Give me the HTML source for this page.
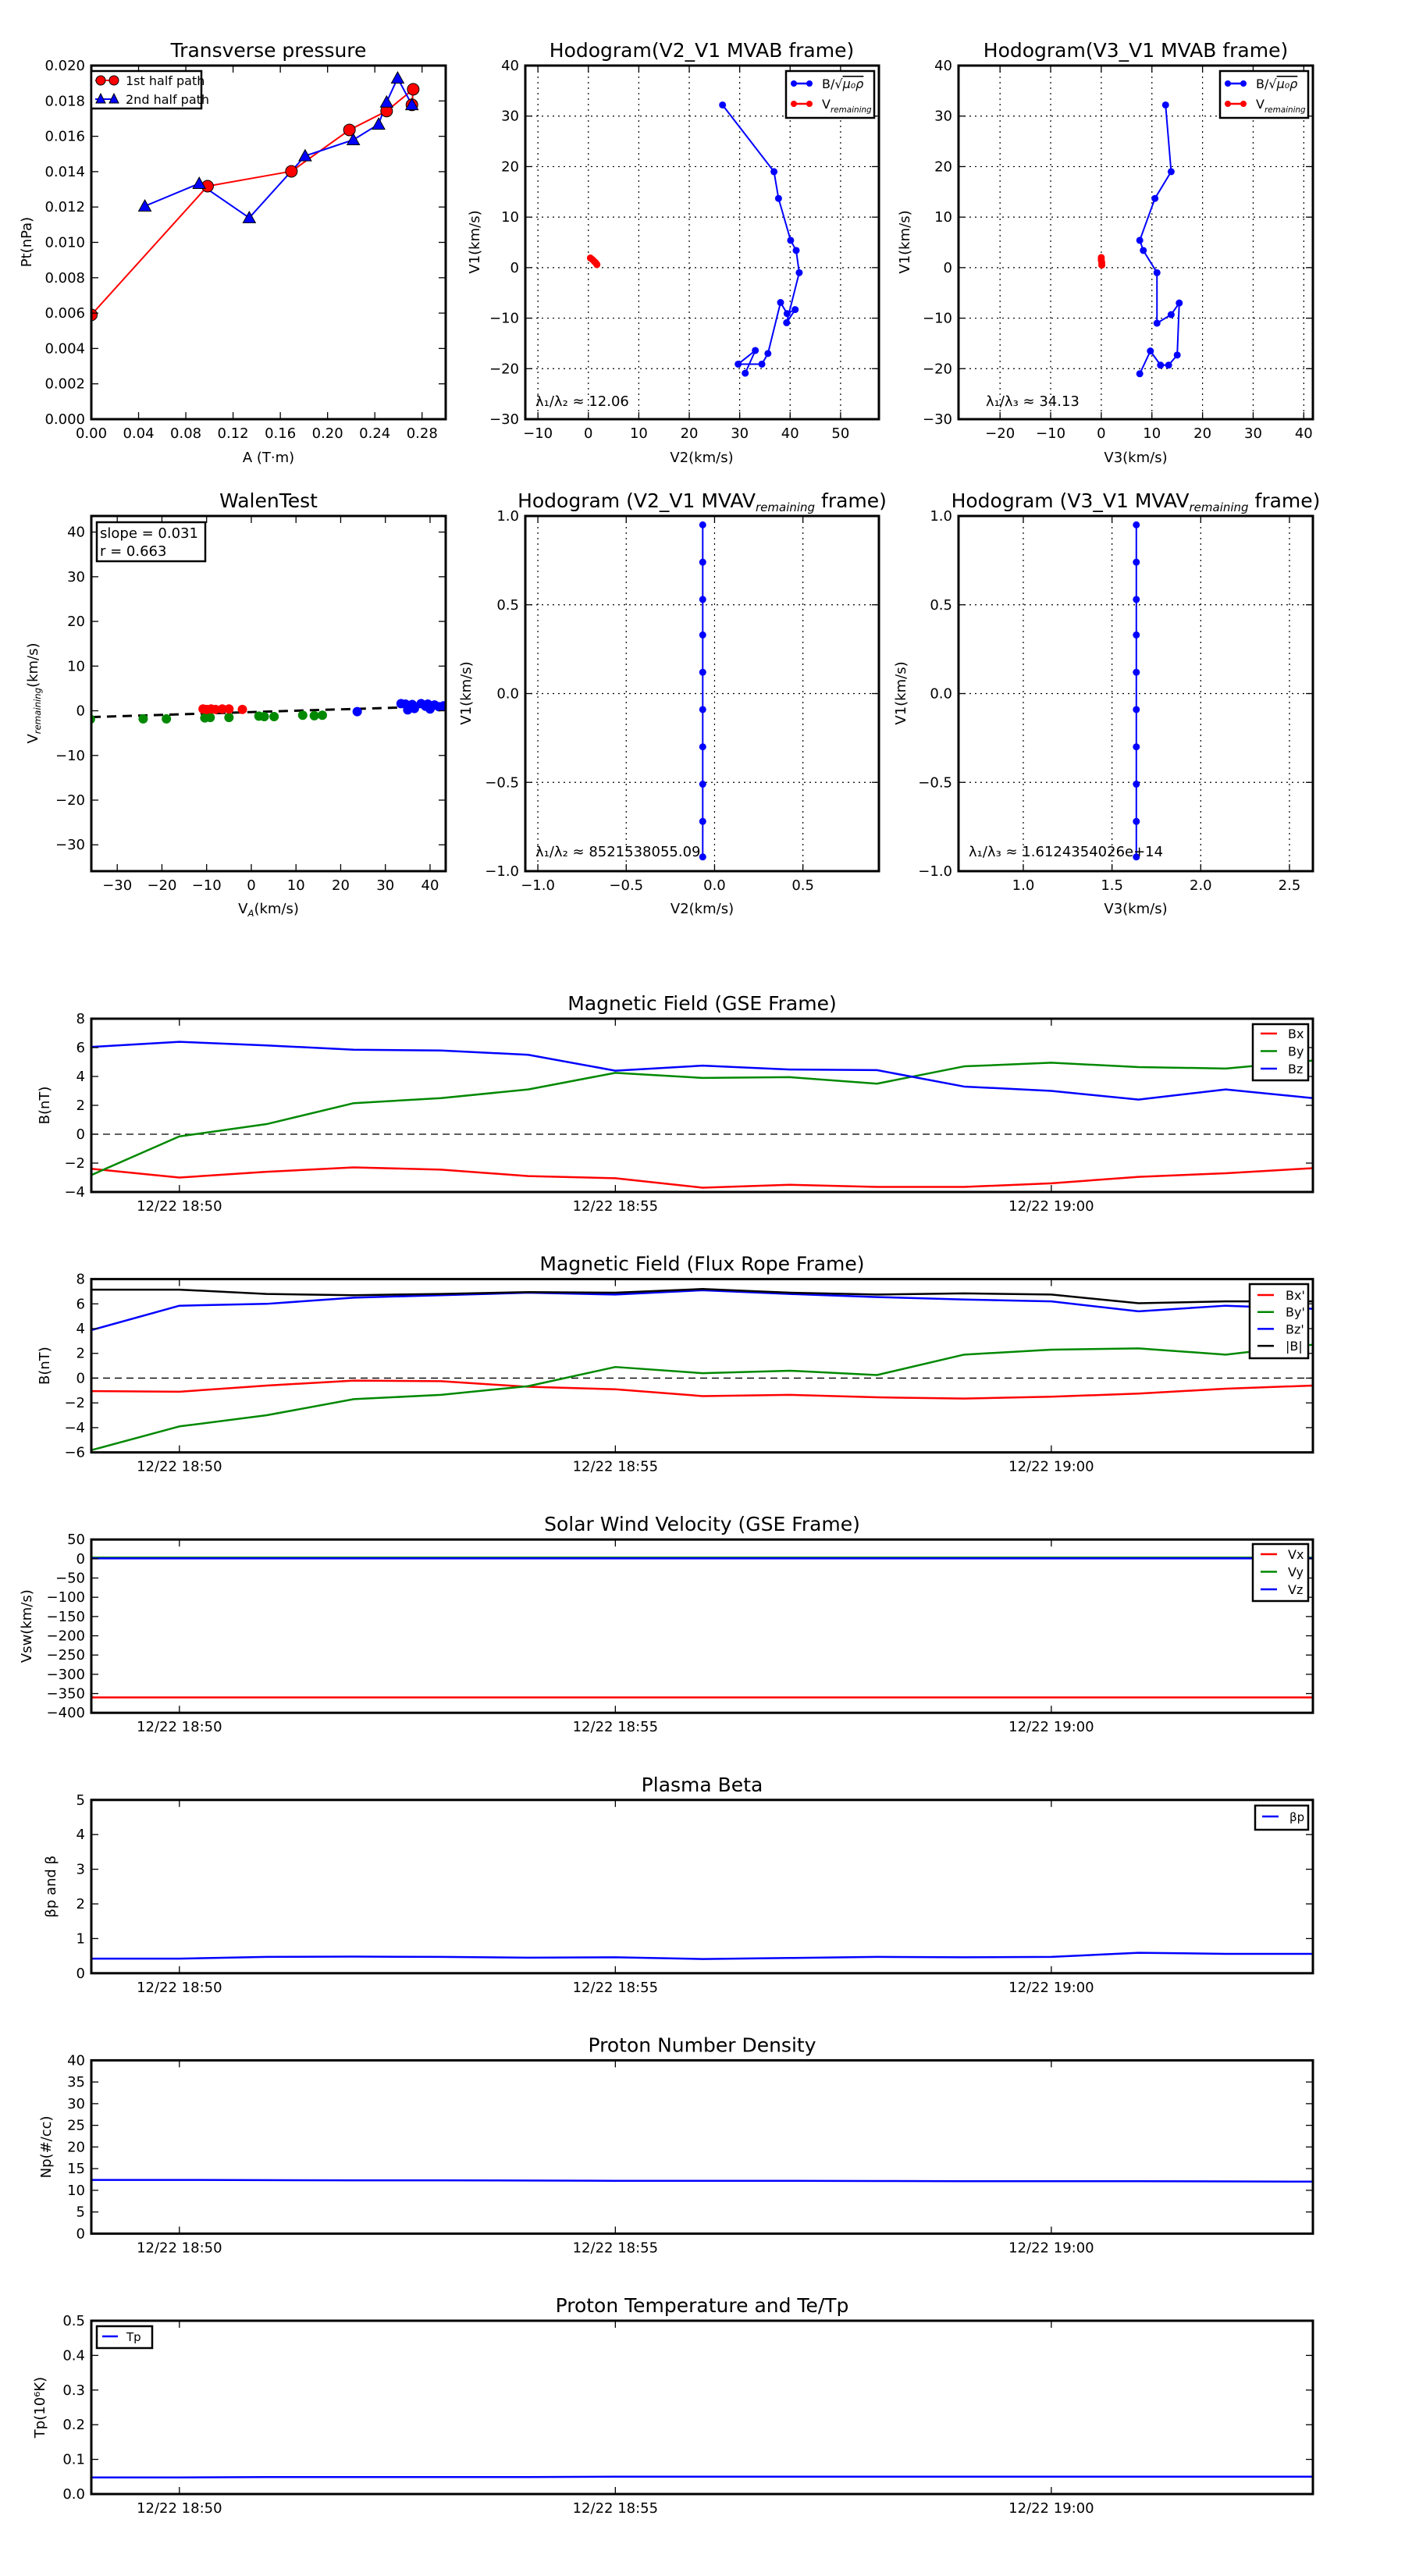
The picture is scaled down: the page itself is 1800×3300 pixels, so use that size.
<!DOCTYPE html>
<html><head><meta charset="utf-8"><title>Flux rope analysis</title>
<style>
html,body{margin:0;padding:0;background:#fff;}
svg{display:block;}
text{font-family:"DejaVu Sans","Liberation Sans",sans-serif;fill:#000;}
</style></head>
<body>
<svg id="fig" xmlns="http://www.w3.org/2000/svg" width="1800" height="3300" viewBox="0 0 1800 3300"></svg>
<script>
// ---------- DATA ----------
const ptRedA = [0.0, 0.0984, 0.1694, 0.2185, 0.250, 0.2725, 0.2714];
const ptRedP = [0.0059, 0.01318, 0.01402, 0.01636, 0.01743, 0.01866, 0.01778];
const ptBlueA = [0.0453, 0.0913, 0.1337, 0.181, 0.2218, 0.2432, 0.250, 0.2593, 0.2714];
const ptBlueP = [0.01205, 0.01333, 0.01139, 0.01489, 0.0158, 0.01668, 0.01793, 0.01929, 0.01778];

const h2BlueX = [26.6, 36.8, 37.7, 40.1, 41.2, 41.8, 39.3, 41.0, 39.4, 38.1, 35.6, 34.4, 29.7, 33.1, 31.1];
const h2BlueY = [32.2, 19.0, 13.7, 5.4, 3.4, -1.0, -10.9, -8.3, -9.1, -6.9, -17.0, -19.1, -19.1, -16.4, -20.9];
const h2RedX = [0.4, 0.8, 1.2, 1.5, 1.7];
const h2RedY = [1.9, 1.6, 1.2, 0.9, 0.6];
const h3BlueX = [12.7, 13.8, 10.6, 7.6, 8.3, 11.0, 11.0, 13.8, 15.4, 15.0, 13.3, 11.7, 9.7, 7.6];
const h3BlueY = [32.2, 19.0, 13.7, 5.4, 3.4, -1.0, -11.0, -9.3, -7.0, -17.3, -19.3, -19.3, -16.5, -21.0];
const h3RedX = [0.0, 0.0, 0.1, 0.1];
const h3RedY = [2.0, 1.5, 1.0, 0.5];

const walGreenX = [-36, -24.2, -19, -10.4, -9.2, -5, 1.7, 2.9, 5.1, 11.5, 14.1, 15.9];
const walGreenY = [-1.9, -1.8, -1.8, -1.6, -1.5, -1.5, -1.2, -1.3, -1.3, -1.0, -1.1, -1.0];
const walRedX = [-10.8, -10, -9, -8, -6.5, -5, -2];
const walRedY = [0.4, 0.3, 0.4, 0.3, 0.4, 0.4, 0.3];
const walBlueX = [23.7, 33.5, 34.5, 35, 36, 36.5, 38, 39, 39.5, 40, 41, 42, 43];
const walBlueY = [-0.2, 1.6, 1.5, 0.2, 1.4, 0.5, 1.6, 1.0, 1.5, 0.4, 1.3, 0.9, 1.1];
const walSlope = 0.031;
const walIntercept = -0.3;

const mv2X = [-0.067, -0.067, -0.067, -0.067, -0.067, -0.067, -0.067, -0.067, -0.067, -0.067];
const mv2Y = [0.95, 0.74, 0.53, 0.33, 0.12, -0.09, -0.30, -0.51, -0.72, -0.92];
const mv3X = [1.637, 1.637, 1.637, 1.637, 1.637, 1.637, 1.637, 1.637, 1.637, 1.637];
const mv3Y = [0.95, 0.74, 0.53, 0.33, 0.12, -0.09, -0.30, -0.51, -0.72, -0.92];

// time series: minutes after 18:49
const tMin = [0,1,2,3,4,5,6,7,8,9,10,11,12,13,14];
const timeTickMin = [1, 6, 11];
const timeTickLabels = ["12/22 18:50", "12/22 18:55", "12/22 19:00"];
const gseBx = [-2.4,-3.0,-2.6,-2.3,-2.45,-2.9,-3.05,-3.7,-3.5,-3.65,-3.65,-3.4,-2.95,-2.7,-2.35];
const gseBy = [-2.8,-0.15,0.7,2.15,2.5,3.1,4.25,3.9,3.95,3.5,4.7,4.95,4.65,4.55,5.1];
const gseBz = [6.05,6.4,6.15,5.85,5.8,5.5,4.4,4.75,4.48,4.44,3.3,3.0,2.4,3.1,2.5];
const frBx = [-1.05,-1.1,-0.6,-0.2,-0.25,-0.7,-0.9,-1.45,-1.35,-1.55,-1.65,-1.5,-1.25,-0.85,-0.6];
const frBy = [-5.8,-3.9,-3.0,-1.7,-1.35,-0.65,0.9,0.4,0.6,0.25,1.9,2.3,2.4,1.9,2.7];
const frBz = [3.9,5.85,6.0,6.5,6.7,6.9,6.75,7.1,6.8,6.55,6.35,6.2,5.4,5.85,5.6];
const frB = [7.15,7.15,6.8,6.7,6.8,6.95,6.9,7.2,6.9,6.75,6.85,6.75,6.05,6.2,6.2];
const velX = [-360,-360,-360,-360,-360,-360,-360,-360,-360,-360,-360,-360,-360,-360,-360];
const velY = [3,3,3,3,3,3,3,3,3,3,3,3,3,3,3];
const velZ = [1,1,1,1,1,1,1,1,1,1,1,1,1,1,1];
const betaP = [0.42,0.42,0.47,0.48,0.47,0.45,0.46,0.41,0.44,0.47,0.46,0.47,0.59,0.56,0.56];
const densNp = [12.4,12.4,12.35,12.3,12.3,12.25,12.2,12.2,12.2,12.15,12.1,12.1,12.1,12.05,12.0];
const tempTp = [0.048,0.048,0.049,0.049,0.049,0.049,0.050,0.050,0.050,0.050,0.050,0.050,0.050,0.050,0.050];

// ---------- HELPERS ----------
const NS = "http://www.w3.org/2000/svg";
const svg = document.getElementById('fig');
function mk(tag, attrs, parent) {
  const e = document.createElementNS(NS, tag);
  for (const k in attrs) e.setAttribute(k, attrs[k]);
  (parent || svg).appendChild(e);
  return e;
}
function lin(d0, d1, r0, r1) { return v => r0 + (v - d0) * (r1 - r0) / (d1 - d0); }
function fmt(v, dec) { const s = Math.abs(v).toFixed(dec); return (v < -1e-12 ? "\u2212" : "") + s; }
function txt(x, y, s, size, anchor, name, parent) {
  const t = mk('text', {x: x, y: y, 'font-size': size, 'text-anchor': anchor || 'start'}, parent);
  t.textContent = s;
  
  
  return t;
}
function setupAxes(name, L, T, R, B, xd, yd) {
  const g = mk('g', {});
  
  
  const clipId = 'clip-' + name;
  const cp = mk('clipPath', {id: clipId}, g);
  mk('rect', {x: L, y: T, width: R - L, height: B - T}, cp);
  const plot = mk('g', {'clip-path': 'url(#' + clipId + ')'}, g);
  
  
  return {g: g, plot: plot, L: L, T: T, R: R, B: B, sx: lin(xd[0], xd[1], L, R), sy: lin(yd[0], yd[1], B, T)};
}
function grid(ax, xt, yt) {
  xt.forEach(v => { const x = ax.sx(v);
    const l = mk('line', {x1: x, y1: ax.T, x2: x, y2: ax.B, stroke: '#000', 'stroke-width': 1.2, 'stroke-dasharray': '2,5'}, ax.plot);
    
     });
  yt.forEach(v => { const y = ax.sy(v);
    const l = mk('line', {x1: ax.L, y1: y, x2: ax.R, y2: y, stroke: '#000', 'stroke-width': 1.2, 'stroke-dasharray': '2,5'}, ax.plot);
    
     });
}
function frame(ax, xt, xl, yt, yl) {
  const g = ax.g;
  xt.forEach((v, i) => { const x = ax.sx(v);
    mk('line', {x1: x, y1: ax.B, x2: x, y2: ax.B - 9, stroke: '#000', 'stroke-width': 1.3}, g);
    mk('line', {x1: x, y1: ax.T, x2: x, y2: ax.T + 9, stroke: '#000', 'stroke-width': 1.3}, g);
    if (xl[i] !== null) txt(x, ax.B + 24, xl[i], 18, 'middle', 'x-tick-label', g); });
  yt.forEach((v, i) => { const y = ax.sy(v);
    mk('line', {x1: ax.L, y1: y, x2: ax.L + 9, y2: y, stroke: '#000', 'stroke-width': 1.3}, g);
    mk('line', {x1: ax.R, y1: y, x2: ax.R - 9, y2: y, stroke: '#000', 'stroke-width': 1.3}, g);
    txt(ax.L - 8, y + 6, yl[i], 18, 'end', 'y-tick-label', g); });
  const r = mk('rect', {x: ax.L, y: ax.T, width: ax.R - ax.L, height: ax.B - ax.T, fill: 'none', stroke: '#000', 'stroke-width': 3}, g);
  
  
}
function polyline(ax, xs, ys, color, w, name, dash) {
  const pts = xs.map((x, i) => ax.sx(x).toFixed(2) + ',' + ax.sy(ys[i]).toFixed(2)).join(' ');
  const a = {points: pts, fill: 'none', stroke: color, 'stroke-width': w, 'stroke-linejoin': 'round'};
  if (dash) a['stroke-dasharray'] = dash;
  const p = mk('polyline', a, ax.plot);
  
  
  return p;
}
function dots(ax, xs, ys, color, r, name, stroke) {
  xs.forEach((x, i) => {
    const c = mk('circle', {cx: ax.sx(x), cy: ax.sy(ys[i]), r: r, fill: color, stroke: stroke || 'none', 'stroke-width': 1}, ax.plot);
    
    
  });
}
function tris(ax, xs, ys, color, s, name) {
  xs.forEach((x, i) => {
    const cx = ax.sx(x), cy = ax.sy(ys[i]);
    const p = mk('polygon', {points: `${cx},${cy - s} ${cx - s},${cy + s * 0.8} ${cx + s},${cy + s * 0.8}`, fill: color, stroke: '#000', 'stroke-width': 1}, ax.plot);
    
    
  });
}
function range(a, b, s) { const r = []; for (let v = a; v <= b + s * 1e-6; v += s) r.push(Math.round(v / s) * s); return r; }
function ylabel(x, yc, s, name, size) {
  const t = txt(x, yc, s, size || 18, 'middle', name);
  t.setAttribute('transform', `rotate(-90 ${x} ${yc})`);
  return t;
}
function vremSpan(t, base) {
  t.textContent = '';
  const a = mk('tspan', {}, t); a.textContent = base;
  const b = mk('tspan', {'font-size': '0.65em', 'font-style': 'italic', dy: 5}, t); b.textContent = 'remaining';
  return b;
}
function legendBox(x, y, w, h, name) {
  const r = mk('rect', {x: x, y: y, width: w, height: h, fill: '#fff', stroke: '#000', 'stroke-width': 2.5});
  
  
}
function legLine(x1, x2, y, color, w) {
  const l = mk('line', {x1: x1, y1: y, x2: x2, y2: y, stroke: color, 'stroke-width': w || 3});
  
  
}

// ---------- ROW 1 ----------
// Transverse pressure
(function(){
  const ax = setupAxes('transverse-pressure-axes', 117, 84, 571, 537, [0, 0.30], [0, 0.020]);
  polyline(ax, ptRedA, ptRedP, '#f00', 2, 'first-half-path-line');
  polyline(ax, ptBlueA, ptBlueP, '#00f', 2, 'second-half-path-line');
  dots(ax, ptRedA, ptRedP, '#f00', 7.5, 'first-half-point', '#000');
  tris(ax, ptBlueA, ptBlueP, '#00f', 8, 'second-half-point');
  const xt = range(0, 0.28, 0.04), yt = range(0, 0.020, 0.002);
  frame(ax, xt, xt.map(v => v.toFixed(2)), yt, yt.map(v => v.toFixed(3)));
  txt(344, 73, 'Transverse pressure', 25, 'middle', 'chart-title');
  txt(344, 592, 'A (T\u00b7m)', 18, 'middle', 'x-axis-title');
  ylabel(40, 310, 'Pt(nPa)', 'y-axis-title');
  legendBox(117, 91, 141, 48, 'legend');
  legLine(122, 147, 103, '#f00', 2);
  mk('circle', {cx: 129, cy: 103, r: 6, fill: '#f00', stroke: '#000'});
  mk('circle', {cx: 146, cy: 103, r: 6, fill: '#f00', stroke: '#000'});
  txt(161, 109, '1st half path', 16, 'start', 'legend-entry');
  legLine(122, 147, 127, '#00f', 2);
  mk('polygon', {points: '129,120 123,132 135,132', fill: '#00f', stroke: '#000'});
  mk('polygon', {points: '146,120 140,132 152,132', fill: '#00f', stroke: '#000'});
  txt(161, 133, '2nd half path', 16, 'start', 'legend-entry');
})();

function hodoLegend(x0) {
  legendBox(x0, 91, 113, 60, 'legend');
  legLine(x0 + 8, x0 + 32, 107, '#00f', 2.5);
  mk('circle', {cx: x0 + 10, cy: 107, r: 4, fill: '#00f'}); mk('circle', {cx: x0 + 30, cy: 107, r: 4, fill: '#00f'});
  const t1 = txt(x0 + 46, 113, 'B/\u221a', 16, 'start', 'legend-entry');
  const s1 = mk('tspan', {'font-style': 'italic', 'text-decoration': 'overline'}, t1); s1.textContent = '\u03bc\u2080\u03c1';
  legLine(x0 + 8, x0 + 32, 133, '#f00', 2.5);
  mk('circle', {cx: x0 + 10, cy: 133, r: 4, fill: '#f00'}); mk('circle', {cx: x0 + 30, cy: 133, r: 4, fill: '#f00'});
  const t2 = txt(x0 + 46, 139, 'V', 16, 'start', 'legend-entry');
  vremSpan(t2, 'V');
}
// Hodogram V2-V1 MVAB
(function(){
  const ax = setupAxes('hodogram-v2-v1-mvab-axes', 673, 84, 1126, 537, [-12.5, 57.6], [-30, 40]);
  const xt = range(-10, 50, 10), yt = range(-30, 40, 10);
  grid(ax, xt, yt);
  polyline(ax, h2BlueX, h2BlueY, '#00f', 2, 'b-alfven-hodogram-line');
  dots(ax, h2BlueX, h2BlueY, '#00f', 4.5, 'b-alfven-point');
  polyline(ax, h2RedX, h2RedY, '#f00', 2, 'v-remaining-hodogram-line');
  dots(ax, h2RedX, h2RedY, '#f00', 4.5, 'v-remaining-point');
  frame(ax, xt, xt.map(v => fmt(v, 0)), yt, yt.map(v => fmt(v, 0)));
  txt(899, 73, 'Hodogram(V2_V1 MVAB frame)', 25, 'middle', 'chart-title');
  txt(899, 592, 'V2(km/s)', 18, 'middle', 'x-axis-title');
  ylabel(614, 310, 'V1(km/s)', 'y-axis-title');
  txt(686, 520, '\u03bb\u2081/\u03bb\u2082 \u2248 12.06', 18, 'start', 'eigenvalue-ratio');
  hodoLegend(1007);
})();
// Hodogram V3-V1 MVAB
(function(){
  const ax = setupAxes('hodogram-v3-v1-mvab-axes', 1228, 84, 1682, 537, [-28.2, 41.8], [-30, 40]);
  const xt = range(-20, 40, 10), yt = range(-30, 40, 10);
  grid(ax, xt, yt);
  polyline(ax, h3BlueX, h3BlueY, '#00f', 2, 'b-alfven-hodogram-line');
  dots(ax, h3BlueX, h3BlueY, '#00f', 4.5, 'b-alfven-point');
  polyline(ax, h3RedX, h3RedY, '#f00', 2, 'v-remaining-hodogram-line');
  dots(ax, h3RedX, h3RedY, '#f00', 4.5, 'v-remaining-point');
  frame(ax, xt, xt.map(v => fmt(v, 0)), yt, yt.map(v => fmt(v, 0)));
  txt(1455, 73, 'Hodogram(V3_V1 MVAB frame)', 25, 'middle', 'chart-title');
  txt(1455, 592, 'V3(km/s)', 18, 'middle', 'x-axis-title');
  ylabel(1165, 310, 'V1(km/s)', 'y-axis-title');
  txt(1263, 520, '\u03bb\u2081/\u03bb\u2083 \u2248 34.13', 18, 'start', 'eigenvalue-ratio');
  hodoLegend(1563);
})();

// ---------- ROW 2 ----------
(function(){
  const ax = setupAxes('walen-test-axes', 117, 661, 571, 1116, [-35.8, 43.5], [-35.9, 43.6]);
  const fx = [-35.8, 43.5];
  const fy = fx.map(v => walSlope * v + walIntercept);
  polyline(ax, fx, fy, '#000', 3, 'walen-fit-line', '12,8');
  dots(ax, walGreenX, walGreenY, '#080', 6, 'walen-point-green');
  dots(ax, walRedX, walRedY, '#f00', 6, 'walen-point-red');
  dots(ax, walBlueX, walBlueY, '#00f', 6, 'walen-point-blue');
  const xt = range(-30, 40, 10), yt = range(-30, 40, 10);
  frame(ax, xt, xt.map(v => fmt(v, 0)), yt, yt.map(v => fmt(v, 0)));
  txt(344, 650, 'WalenTest', 25, 'middle', 'chart-title');
  const xl = txt(344, 1170, 'V', 18, 'middle', 'x-axis-title');
  xl.textContent = '';
  const a = mk('tspan', {}, xl); a.textContent = 'V';
  const b = mk('tspan', {'font-size': '0.65em', 'font-style': 'italic', dy: 4}, xl); b.textContent = 'A';
  const c = mk('tspan', {dy: -4}, xl); c.textContent = '(km/s)';
  const yl = ylabel(48, 888, 'V', 'y-axis-title');
  yl.textContent = '';
  const a2 = mk('tspan', {}, yl); a2.textContent = 'V';
  const b2 = mk('tspan', {'font-size': '0.65em', 'font-style': 'italic', dy: 4}, yl); b2.textContent = 'remaining';
  const c2 = mk('tspan', {dy: -4}, yl); c2.textContent = '(km/s)';
  legendBox(124, 669, 139, 50, 'stats-box');
  txt(128, 689, 'slope = 0.031', 18, 'start', 'slope-label');
  txt(128, 712, 'r = 0.663', 18, 'start', 'correlation-label');
})();
function mvavPanel(name, L, R, xd, xt, xs, ys, title, xlab, ylx, lamText) {
  const ax = setupAxes(name, L, 661, R, 1116, xd, [-1.0, 1.0]);
  const yt = [-1.0, -0.5, 0.0, 0.5, 1.0];
  grid(ax, xt, yt);
  polyline(ax, xs, ys, '#00f', 2, 'b-alfven-hodogram-line');
  dots(ax, xs, ys, '#00f', 4.5, 'b-alfven-point');
  frame(ax, xt, xt.map(v => fmt(v, 1)), yt, yt.map(v => fmt(v, 1)));
  const cx = (L + R) / 2;
  const t = txt(cx, 650, title[0], 25, 'middle', 'chart-title');
  const s = mk('tspan', {'font-size': '0.6em', 'font-style': 'italic', dy: 5}, t); s.textContent = 'remaining';
  const s2 = mk('tspan', {dy: -5}, t); s2.textContent = ' frame)';
  txt(cx, 1170, xlab, 18, 'middle', 'x-axis-title');
  ylabel(ylx, 888, 'V1(km/s)', 'y-axis-title');
  txt(L + 13, 1097, lamText, 18, 'start', 'eigenvalue-ratio');
}
mvavPanel('hodogram-v2-v1-mvav-axes', 673, 1126, [-1.071, 0.930], [-1.0, -0.5, 0.0, 0.5], mv2X, mv2Y,
  ['Hodogram (V2_V1 MVAV'], 'V2(km/s)', 603, '\u03bb\u2081/\u03bb\u2082 \u2248 8521538055.09');
mvavPanel('hodogram-v3-v1-mvav-axes', 1228, 1682, [0.635, 2.632], [1.0, 1.5, 2.0, 2.5], mv3X, mv3Y,
  ['Hodogram (V3_V1 MVAV'], 'V3(km/s)', 1160, '\u03bb\u2081/\u03bb\u2083 \u2248 1.6124354026e+14');

// ---------- TIME SERIES ----------
const TL = 117, TR = 1682, TH = 222;
function tsPanel(idx, name, title, yd, yt, ydec, series, zero, ylab, ylx) {
  const T = 1305 + idx * 333.6, B = T + TH;
  const ax = setupAxes(name, TL, T, TR, B, [-0.01, 14.0], yd);
  if (zero) {
    const z = mk('line', {x1: TL, y1: ax.sy(0), x2: TR, y2: ax.sy(0), stroke: '#000', 'stroke-width': 1.3, 'stroke-dasharray': '9,6'}, ax.plot);
    
    
  }
  series.forEach(s => polyline(ax, tMin, s.v, s.c, 2.5, s.n));
  frame(ax, timeTickMin, timeTickLabels, yt, yt.map(v => fmt(v, ydec)));
  txt((TL + TR) / 2, T - 11, title, 25, 'middle', 'chart-title');
  ylabel(ylx, T + TH / 2, ylab, 'y-axis-title');
  return ax;
}
tsPanel(0, 'magnetic-field-gse-axes', 'Magnetic Field (GSE Frame)', [-4, 8], range(-4, 8, 2), 0,
  [{v: gseBx, c: '#f00', n: 'bx-line'}, {v: gseBy, c: '#080', n: 'by-line'}, {v: gseBz, c: '#00f', n: 'bz-line'}], true, 'B(nT)', 63);
legendBox(1605, 1312, 71, 72, 'legend');
[['Bx', '#f00'], ['By', '#080'], ['Bz', '#00f']].forEach((e, i) => { const y = 1324 + i * 22.5; legLine(1615, 1636, y, e[1], 2.5); txt(1650, y + 6, e[0], 16, 'start', 'legend-entry'); });

tsPanel(1, 'magnetic-field-flux-rope-axes', 'Magnetic Field (Flux Rope Frame)', [-6, 8], range(-6, 8, 2), 0,
  [{v: frBx, c: '#f00', n: 'bx-prime-line'}, {v: frBy, c: '#080', n: 'by-prime-line'}, {v: frBz, c: '#00f', n: 'bz-prime-line'}, {v: frB, c: '#000', n: 'b-magnitude-line'}], true, 'B(nT)', 63);
legendBox(1601, 1645, 75, 95, 'legend');
[["Bx'", '#f00'], ["By'", '#080'], ["Bz'", '#00f'], ['|B|', '#000']].forEach((e, i) => { const y = 1659 + i * 21.7; legLine(1611, 1632, y, e[1], 2.5); txt(1647, y + 6, e[0], 16, 'start', 'legend-entry'); });

tsPanel(2, 'solar-wind-velocity-axes', 'Solar Wind Velocity (GSE Frame)', [-400, 50], range(-400, 50, 50), 0,
  [{v: velX, c: '#f00', n: 'vx-line'}, {v: velY, c: '#080', n: 'vy-line'}, {v: velZ, c: '#00f', n: 'vz-line'}], false, 'Vsw(km/s)', 40);
legendBox(1605, 1978, 71, 73, 'legend');
[['Vx', '#f00'], ['Vy', '#080'], ['Vz', '#00f']].forEach((e, i) => { const y = 1991 + i * 22.5; legLine(1615, 1636, y, e[1], 2.5); txt(1650, y + 6, e[0], 16, 'start', 'legend-entry'); });

tsPanel(3, 'plasma-beta-axes', 'Plasma Beta', [0, 5], range(0, 5, 1), 0,
  [{v: betaP, c: '#00f', n: 'beta-p-line'}], false, '\u03b2p and \u03b2', 71);
legendBox(1608, 2313, 68, 31, 'legend');
legLine(1617, 1638, 2327, '#00f', 2.5);
txt(1652, 2333, '\u03b2p', 15, 'start', 'legend-entry');

tsPanel(4, 'proton-density-axes', 'Proton Number Density', [0, 40], range(0, 40, 5), 0,
  [{v: densNp, c: '#00f', n: 'np-line'}], false, 'Np(#/cc)', 65);

tsPanel(5, 'proton-temperature-axes', 'Proton Temperature and Te/Tp', [0, 0.5], range(0, 0.5, 0.1), 1,
  [{v: tempTp, c: '#00f', n: 'tp-line'}], false, 'Tp(10\u2076K)', 57);
legendBox(124, 2980, 71, 28, 'legend');
legLine(131, 151, 2993, '#00f', 2.5);
txt(162, 2999, 'Tp', 15, 'start', 'legend-entry');
</script>
</body></html>
